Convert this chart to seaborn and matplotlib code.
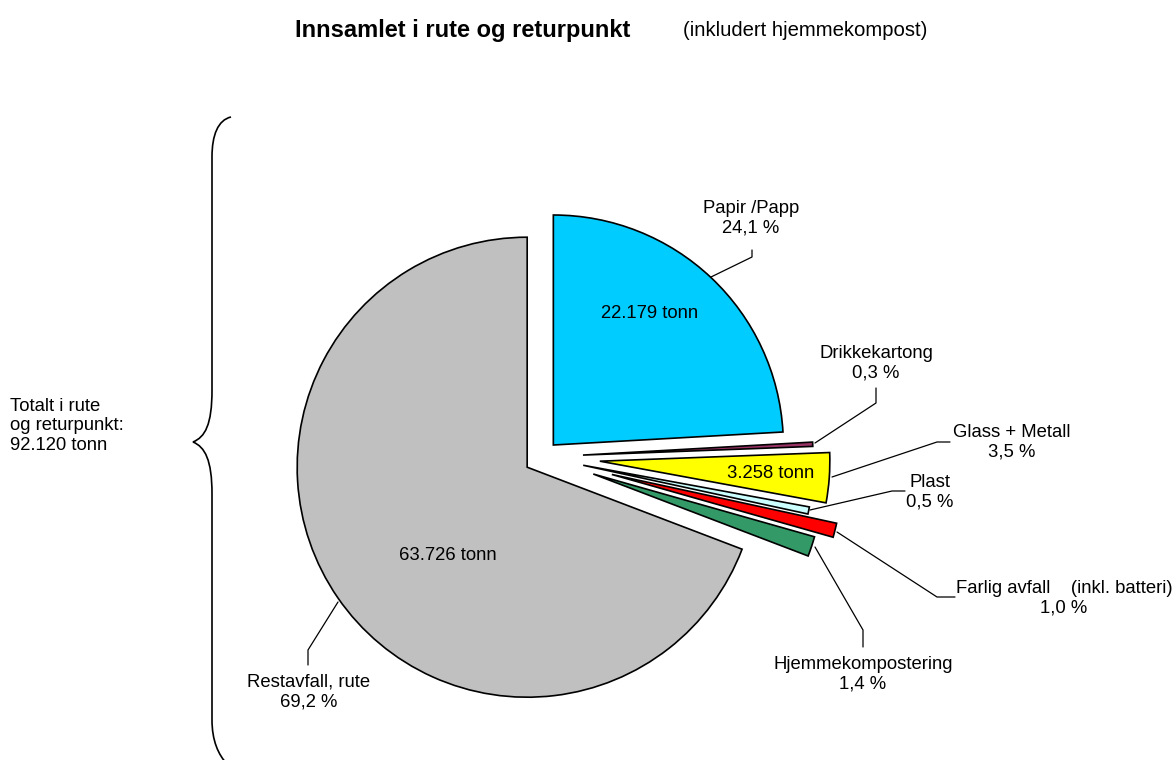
import numpy as np
import matplotlib
matplotlib.use('Agg')
import matplotlib.pyplot as plt
from matplotlib.path import Path
from matplotlib.patches import PathPatch
import seaborn as sns

sns.set_theme(style='white')
plt.rcParams['font.family'] = ['Liberation Sans', 'DejaVu Sans']
plt.rcParams['text.color'] = 'black'

# data (order: clockwise from 12 o'clock)
categories = ['Papir /Papp', 'Drikkekartong', 'Glass + Metall', 'Plast',
              'Farlig avfall    (inkl. batteri)', 'Hjemmekompostering', 'Restavfall, rute']
pct = [24.1, 0.3, 3.5, 0.5, 1.0, 1.4, 69.2]
tonn_labels = ['22.179 tonn', '', '3.258 tonn', '', '', '', '63.726 tonn']
colors = ['#00CCFF', '#993366', '#FFFF00', '#CCFFFF', '#FF0000', '#339966', '#C0C0C0']
total_text = 'Totalt i rute\nog returpunkt:\n92.120 tonn'

W, H = 1174, 760


def px(x, y):
    # pixel coords (y down) -> data coords (y up)
    return x, H - y


fig = plt.figure(figsize=(W / 100, H / 100), dpi=100)
ax = fig.add_axes([0, 0, 1, 1])

# explode distance in pixels (pie uses data units)
explode = [16.5, 41, 58, 42, 72, 54, 18]
ax.pie(pct, explode=explode, colors=colors, startangle=90, counterclock=False,
       center=px(542, 457), radius=230,
       wedgeprops=dict(edgecolor='black', linewidth=1.2))
ax.set_xlim(0, W)
ax.set_ylim(0, H)
ax.set_aspect('equal')
ax.axis('off')

fs = 13.3

# category labels with percent
label_pos = [(751, 218), (876, 363), (1012, 442), (930, 492), (1064, 598), (863, 674), (309, 692)]
for name, p, (x, y) in zip(categories, pct, label_pos):
    pstr = f"{p:.1f}".replace('.', ',') + ' %'
    ax.text(*px(x, y), name + '\n' + pstr, ha='center', va='center', fontsize=fs,
            linespacing=1.2)

# tonnage inside wedges
tonn_pos = [(650, 313), None, (771, 473), None, None, None, (448, 556)]
for t, pos in zip(tonn_labels, tonn_pos):
    if t:
        ax.text(*px(*pos), t, ha='center', va='center', fontsize=fs)

# leader lines
leaders = [
    [(752, 250), (752, 257), (711, 277)],
    [(876, 388), (876, 403), (815, 443)],
    [(950, 442), (937, 442), (832, 477)],
    [(905, 491), (892, 491), (810, 510)],
    [(955, 597), (937, 597), (837, 532)],
    [(863, 647), (863, 630), (815, 547)],
    [(308, 665), (308, 650), (338, 602)],
]
for pts in leaders:
    xs = [p[0] for p in pts]
    ys = [H - p[1] for p in pts]
    ax.plot(xs, ys, color='black', lw=0.9)

# brace
verts = [(231, 117), (218, 120), (212, 135), (212, 157),
         (212, 390),
         (212, 425), (205, 437), (193, 442),
         (205, 447), (212, 460), (212, 494),
         (212, 720),
         (212, 740), (218, 755), (228, 765)]
codes = [Path.MOVETO, Path.CURVE4, Path.CURVE4, Path.CURVE4,
         Path.LINETO,
         Path.CURVE4, Path.CURVE4, Path.CURVE4,
         Path.CURVE4, Path.CURVE4, Path.CURVE4,
         Path.LINETO,
         Path.CURVE4, Path.CURVE4, Path.CURVE4]
brace = Path([px(*v) for v in verts], codes)
ax.add_patch(PathPatch(brace, facecolor='none', edgecolor='black', lw=1.2))

ax.text(*px(10, 426), total_text, ha='left', va='center', fontsize=fs, linespacing=1.2)

# title
ax.text(*px(630, 30), 'Innsamlet i rute og returpunkt', ha='right', va='center',
        fontsize=17, fontweight='bold')
ax.text(*px(683, 30), '(inkludert hjemmekompost)', ha='left', va='center', fontsize=14.6)

fig.savefig('out.png', dpi=100, facecolor='white')
